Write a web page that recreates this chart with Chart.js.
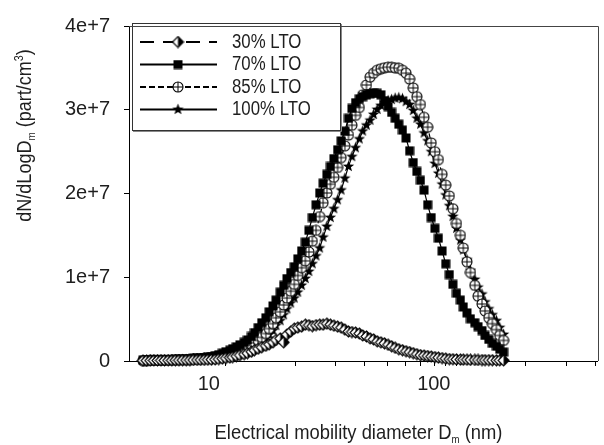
<!DOCTYPE html>
<html>
<head>
<meta charset="utf-8">
<title>Particle size distributions</title>
<script src="https://cdn.jsdelivr.net/npm/chart.js@4.4.0/dist/chart.umd.min.js"></script>
<style>
  html, body { margin: 0; padding: 0; background: #ffffff; }
  #wrap { width: 604px; height: 445px; }
</style>
</head>
<body>
<div id="wrap"><canvas id="chart" width="604" height="445"></canvas></div>
<script>
// Mobility diameter channels (nm), 64 channels per decade
const diameters = [
  4.37, 4.53, 4.70, 4.87, 5.05, 5.23, 5.42, 5.62, 5.83, 6.04, 6.26, 6.49, 6.73, 6.98, 7.23, 7.50,
  7.77, 8.06, 8.35, 8.66, 8.98, 9.31, 9.65,
  10.0, 10.4, 10.7, 11.1, 11.5, 12.0, 12.4, 12.9, 13.3, 13.8, 14.3, 14.9, 15.4, 16.0, 16.5, 17.2,
  17.8, 18.4, 19.1, 19.8, 20.5, 21.3, 22.1, 22.9, 23.7, 24.6, 25.5, 26.4, 27.4, 28.4, 29.4, 30.5,
  31.6, 32.8, 34.0, 35.2, 36.5, 37.9, 39.2, 40.7, 42.2, 43.7, 45.3, 47.0, 48.7, 50.5, 52.3, 54.2,
  56.2, 58.3, 60.4, 62.6, 64.9, 67.3, 69.8, 72.3, 75.0, 77.7, 80.6, 83.5, 86.6, 89.8, 93.1, 96.5,
  100, 104, 107, 111, 115, 120, 124, 129, 133, 138, 143, 149, 154, 160
];

// dN/dLogDm in units of 1e6 part/cm3
const UNIT = 1e6;
const lto30 = [
  0.05, 0.05, 0.05, 0.06, 0.06, 0.07, 0.07, 0.08, 0.08, 0.09,
  0.09, 0.10, 0.10, 0.11, 0.12, 0.12, 0.13, 0.14, 0.15, 0.16,
  0.18, 0.23, 0.29, 0.35, 0.41, 0.47, 0.59, 0.70, 0.82, 0.94,
  1.11, 1.29, 1.47, 1.64, 1.82, 1.99, 2.23, 2.52, 2.70, 2.23,
  3.17, 3.52, 3.87, 3.99, 4.11, 4.34, 4.28, 4.16, 4.28, 4.34,
  4.34, 4.46, 4.34, 4.22, 4.11, 3.99, 3.75, 3.52, 3.46, 3.40,
  3.28, 3.05, 2.93, 2.70, 2.58, 2.35, 2.23, 2.11, 1.94, 1.76,
  1.58, 1.41, 1.29, 1.17, 1.06, 0.94, 0.82, 0.70, 0.65, 0.59,
  0.53, 0.47, 0.41, 0.35, 0.29, 0.23, 0.21, 0.19, 0.17, 0.16,
  0.15, 0.14, 0.13, 0.12, 0.11, 0.10, 0.10, 0.09, 0.08, 0.08,
  0.07
];
const lto70 = [
  0.10, 0.10, 0.12, 0.12, 0.13, 0.14, 0.15, 0.16, 0.17, 0.19,
  0.20, 0.23, 0.25, 0.27, 0.30, 0.33, 0.36, 0.41, 0.47, 0.53,
  0.65, 0.76, 0.94, 1.11, 1.29, 1.47, 1.70, 1.94, 2.23, 2.52,
  2.93, 3.40, 3.99, 4.57, 5.16, 5.87, 6.57, 7.27, 8.21, 9.03,
  9.85, 10.56, 11.26, 12.20, 13.14, 14.19, 15.60, 17.13, 18.65, 20.06,
  21.23, 22.29, 23.23, 24.17, 25.22, 26.28, 27.45, 28.98, 30.15, 30.85,
  31.32, 31.56, 31.79, 31.91, 32.03, 31.97, 31.79, 31.09, 30.38, 29.68,
  28.98, 28.27, 27.57, 26.63, 25.10, 23.70, 22.64, 21.58, 20.41, 18.65,
  17.13, 15.84, 14.66, 13.14, 11.61, 10.32, 9.15, 8.09, 7.27, 6.45,
  5.75, 5.04, 4.57, 4.11, 3.64, 3.05, 2.58, 2.11, 1.76, 1.41,
  1.06
];
const lto85 = [
  0.05, 0.05, 0.06, 0.06, 0.07, 0.08, 0.08, 0.09, 0.10, 0.11,
  0.12, 0.13, 0.15, 0.16, 0.18, 0.21, 0.29, 0.35, 0.37, 0.41,
  0.47, 0.53, 0.59, 0.70, 0.82, 0.94, 1.06, 1.23, 1.41, 1.64,
  1.88, 2.17, 2.46, 2.82, 3.28, 3.87, 4.46, 5.16, 5.87, 6.69,
  7.51, 8.33, 9.15, 10.21, 11.14, 11.96, 13.02, 14.31, 15.60, 17.25,
  18.89, 20.06, 21.11, 21.94, 23.11, 24.29, 25.69, 26.98, 28.15, 29.33,
  30.27, 31.79, 32.96, 33.90, 34.37, 34.72, 34.90, 35.02, 35.08, 35.08,
  35.02, 34.96, 34.72, 34.37, 33.67, 32.61, 31.56, 30.62, 29.10, 27.92,
  26.04, 24.99, 24.05, 22.29, 21.00, 19.71, 18.18, 16.42, 15.01, 13.49,
  11.85, 10.56, 9.03, 7.74, 6.81, 5.98, 5.16, 4.46, 3.75, 3.05,
  2.46
];
const lto100 = [
  0.04, 0.04, 0.05, 0.05, 0.06, 0.06, 0.07, 0.08, 0.09, 0.10,
  0.11, 0.12, 0.13, 0.15, 0.17, 0.19, 0.23, 0.29, 0.29, 0.35,
  0.41, 0.47, 0.53, 0.59, 0.70, 0.76, 0.88, 1.00, 1.11, 1.29,
  1.47, 1.70, 2.00, 2.35, 2.70, 3.17, 3.64, 4.22, 4.81, 5.51,
  6.22, 6.92, 7.51, 8.21, 9.03, 9.85, 10.68, 11.61, 12.55, 13.49,
  14.78, 16.07, 17.13, 18.18, 19.24, 20.41, 21.82, 23.23, 24.40, 25.46,
  26.51, 27.45, 28.15, 28.74, 29.44, 30.03, 30.50, 30.85, 31.09, 31.21,
  31.38, 31.44, 31.32, 30.97, 30.62, 29.91, 28.98, 28.27, 27.22, 26.28,
  24.99, 23.58, 22.41, 21.11, 19.82, 18.53, 17.25, 15.84, 14.43, 13.26,
  12.08, 10.79, 9.74, 8.80, 7.98, 7.04, 6.22, 5.51, 4.81, 3.99,
  3.17
];

const seriesLabels = ['30% LTO', '70% LTO', '85% LTO', '100% LTO'];
const seriesValues = [lto30, lto70, lto85, lto100];

// Axis ticks
const yTickValues = [0, 1e7, 2e7, 3e7, 4e7];
const yTickLabels = ['0', '1e+7', '2e+7', '3e+7', '4e+7'];
const xTickValues = [10, 20, 30, 40, 50, 60, 70, 80, 90, 100, 200, 300, 400];
const xTickLabels = { 10: '10', 100: '100' };

const FONT = "'Liberation Sans', Arial, sans-serif";
const INK = '#1e1e1e';

// ---- marker glyphs -------------------------------------------------------
function makeMarker(w, h, paint) {
  const c = document.createElement('canvas');
  c.width = w; c.height = h;
  const g = c.getContext('2d');
  paint(g, w / 2, h / 2);
  return c;
}
const halfDiamond = makeMarker(13, 13, (g, cx, cy) => {
  const r = 5.5;
  g.beginPath();
  g.moveTo(cx, cy - r); g.lineTo(cx + r, cy); g.lineTo(cx, cy + r); g.lineTo(cx - r, cy); g.closePath();
  g.fillStyle = '#fff'; g.fill();
  g.beginPath();
  g.moveTo(cx, cy - r); g.lineTo(cx + r, cy); g.lineTo(cx, cy + r); g.closePath();
  g.fillStyle = '#000'; g.fill();
  g.beginPath();
  g.moveTo(cx, cy - r); g.lineTo(cx + r, cy); g.lineTo(cx, cy + r); g.lineTo(cx - r, cy); g.closePath();
  g.lineWidth = 1.1; g.strokeStyle = '#000'; g.stroke();
});
const filledSquare = makeMarker(10, 10, (g) => {
  g.fillStyle = '#000'; g.fillRect(0.5, 0.5, 9, 9);
});
const crossedCircle = makeMarker(12, 12, (g, cx, cy) => {
  const r = 5;
  g.beginPath(); g.arc(cx, cy, r, 0, Math.PI * 2);
  g.fillStyle = '#fff'; g.fill();
  g.lineWidth = 1.1; g.strokeStyle = '#000'; g.stroke();
  g.beginPath();
  g.moveTo(cx - r, cy); g.lineTo(cx + r, cy);
  g.moveTo(cx, cy - r); g.lineTo(cx, cy + r);
  g.lineWidth = 1;
  g.stroke();
});
const filledStar = makeMarker(13, 13, (g, cx, cy) => {
  const R = 6, r = 2.5;
  g.beginPath();
  for (let k = 0; k < 10; k++) {
    const rad = k % 2 === 0 ? R : r;
    const a = -Math.PI / 2 + k * Math.PI / 5;
    const px = cx + rad * Math.cos(a), py = cy + rad * Math.sin(a);
    if (k === 0) g.moveTo(px, py); else g.lineTo(px, py);
  }
  g.closePath();
  g.fillStyle = '#000'; g.fill();
});

const seriesMarkers = [halfDiamond, filledSquare, crossedCircle, filledStar];
const seriesDashes = [[14, 9], [], [6, 3], []];

const datasets = seriesValues.map((vals, s) => ({
  label: seriesLabels[s],
  data: diameters.map((d, i) => ({ x: d, y: vals[i] * UNIT })),
  borderColor: '#000',
  borderWidth: 1.2,
  borderDash: seriesDashes[s],
  pointStyle: seriesMarkers[s],
  pointRadius: 5,
  pointHoverRadius: 5,
  tension: 0,
  fill: false,
  clip: false
}));

// ---- condensed text helpers (plain text drawn narrower) -------------------
function richWidth(ctx, parts) {
  let w = 0;
  for (const p of parts) { ctx.font = p.size + 'px ' + FONT; w += ctx.measureText(p.text).width; }
  return w;
}
function drawRich(ctx, parts, x, y) {
  let cx = x;
  for (const p of parts) {
    ctx.font = p.size + 'px ' + FONT;
    ctx.fillText(p.text, cx, y + (p.dy || 0));
    cx += ctx.measureText(p.text).width;
  }
}
// draws a run of parts centred on (x, y) with horizontal squeeze
function drawCondensed(ctx, parts, x, y, squeeze) {
  const w = richWidth(ctx, parts);
  ctx.save();
  ctx.translate(x, y);
  ctx.scale(squeeze, 1);
  drawRich(ctx, parts, -w / 2, 0);
  ctx.restore();
}

const axisTitles = {
  id: 'axisTitles',
  afterDraw(chart) {
    const ctx = chart.ctx;
    const area = chart.chartArea;
    ctx.save();
    ctx.fillStyle = INK;
    ctx.textBaseline = 'alphabetic';
    ctx.textAlign = 'left';
    // x title
    drawCondensed(ctx, [
      { text: 'Electrical mobility diameter D', size: 21 },
      { text: 'm', size: 11, dy: 4 },
      { text: ' (nm)', size: 21 }
    ], 358.5, 439, 0.875);
    // y title
    ctx.save();
    ctx.translate(30.5, 135.5);
    ctx.rotate(-Math.PI / 2);
    drawCondensed(ctx, [
      { text: 'dN/dLogD', size: 20 },
      { text: 'm', size: 11, dy: 4 },
      { text: ' (part/cm', size: 20 },
      { text: '3', size: 12, dy: -8 },
      { text: ')', size: 20 }
    ], 0, 0, 0.9);
    ctx.restore();
    ctx.restore();

    // plot frame: top and right edges
    ctx.save();
    ctx.strokeStyle = '#444';
    ctx.lineWidth = 1;
    ctx.beginPath();
    ctx.moveTo(area.left, Math.round(area.top) + 0.5);
    ctx.lineTo(Math.round(area.right) + 0.5, Math.round(area.top) + 0.5);
    ctx.lineTo(Math.round(area.right) + 0.5, area.bottom);
    ctx.stroke();
    ctx.restore();
  }
};

// ---- legend box with line samples ----------------------------------------
const sampleLegend = {
  id: 'sampleLegend',
  afterDatasetsDraw(chart) {
    const ctx = chart.ctx;
    const L = 132, T = 23, R = 340, B = 130;
    ctx.save();
    ctx.fillStyle = '#fff';
    ctx.fillRect(L, T, R - L, B - T);
    ctx.strokeStyle = '#888';
    ctx.lineWidth = 1;
    ctx.beginPath();
    ctx.moveTo(L + 1, B + 1.5); ctx.lineTo(R + 1.5, B + 1.5); ctx.lineTo(R + 1.5, T + 1);
    ctx.stroke();
    ctx.strokeStyle = '#333';
    ctx.strokeRect(L + 0.5, T + 0.5, R - L, B - T);
    ctx.textBaseline = 'middle';
    ctx.textAlign = 'left';
    seriesLabels.forEach((label, s) => {
      const y = T + 19 + s * 22.5;
      ctx.strokeStyle = '#000';
      ctx.lineWidth = 2;
      ctx.setLineDash(seriesDashes[s]);
      ctx.beginPath();
      ctx.moveTo(140, y); ctx.lineTo(217, y);
      ctx.stroke();
      ctx.setLineDash([]);
      const m = seriesMarkers[s];
      ctx.drawImage(m, 178 - m.width / 2, y - m.height / 2);
      ctx.fillStyle = INK;
      ctx.save();
      ctx.translate(232, y);
      ctx.scale(0.84, 1);
      ctx.font = '20px ' + FONT;
      ctx.fillText(label, 0, 0);
      ctx.restore();
    });
    ctx.restore();
  }
};

new Chart(document.getElementById('chart'), {
  type: 'line',
  data: { datasets },
  plugins: [sampleLegend, axisTitles],
  options: {
    responsive: false,
    devicePixelRatio: 1,
    animation: false,
    layout: { padding: { left: 0, top: 20, right: 2, bottom: 0 } },
    plugins: { legend: { display: false }, tooltip: { enabled: false } },
    scales: {
      x: {
        type: 'logarithmic',
        min: 3.8,
        max: 410,
        afterBuildTicks: (scale) => { scale.ticks = xTickValues.map(v => ({ value: v })); },
        afterFit: (scale) => { scale.height = 84; },
        border: { display: true, color: '#000', width: 1 },
        grid: { display: true, drawOnChartArea: false, drawTicks: true, tickLength: 5, color: '#000' },
        ticks: {
          autoSkip: false,
          maxRotation: 0,
          align: 'end',
          labelOffset: -6,
          padding: 6,
          color: INK,
          font: { family: FONT, size: 20 },
          callback: (v) => xTickLabels[v] || ''
        },
        title: { display: false }
      },
      y: {
        type: 'linear',
        min: 0,
        max: 4e7,
        afterBuildTicks: (scale) => { scale.ticks = yTickValues.map(v => ({ value: v })); },
        afterFit: (scale) => { scale.width = 129; },
        border: { display: true, color: '#000', width: 1 },
        grid: { display: true, drawOnChartArea: false, drawTicks: true, tickLength: 5, color: '#000' },
        ticks: {
          padding: 14,
          color: INK,
          font: { family: FONT, size: 20 },
          callback: (v) => yTickLabels[yTickValues.indexOf(v)]
        },
        title: { display: false }
      }
    }
  }
});
</script>
</body>
</html>
